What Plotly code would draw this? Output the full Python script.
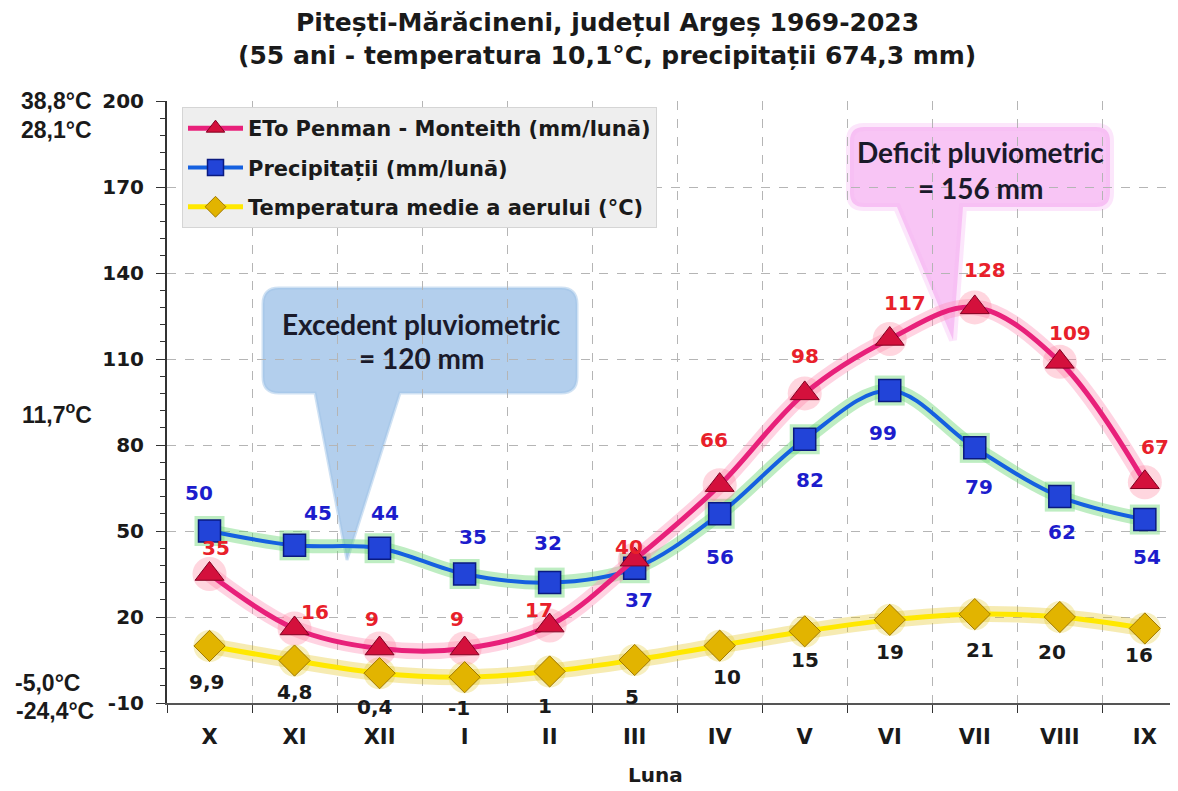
import plotly.graph_objects as go

# ---------------- data ----------------
months = ["X", "XI", "XII", "I", "II", "III", "IV", "V", "VI", "VII", "VIII", "IX"]
eto = [35, 16, 9, 9, 17, 40, 66, 98, 117, 128, 109, 67]
precip = [50, 45, 44, 35, 32, 37, 56, 82, 99, 79, 62, 54]
temp = [9.9, 4.8, 0.4, -1, 1, 5, 10, 15, 19, 21, 20, 16]
temp_labels = ["9,9", "4,8", "0,4", "-1", "1", "5", "10", "15", "19", "21", "20", "16"]
y_ticks = [-10, 20, 50, 80, 110, 140, 170, 200]

title1 = "Pitești-Mărăcineni, județul Argeș 1969-2023"
title2 = "(55 ani - temperatura 10,1°C, precipitații 674,3 mm)"
left_labels = ["38,8°C", "28,1°C", "11,7<sup>o</sup>C", "-5,0°C", "-24,4°C"]

# ---------------- label offsets (pixels) ----------------
eto_dx = [6, 20, -8, -8, -11, -6, -6, 0, 15, 10, 10, 10]
eto_dy = [26, 16, 30, 30, 16, 13, 45, 37, 36, 37, 29, 35]
pre_dx = [-11, 23, 5, 8, -2, 4, 0, 5, -7, 4, 2, 2]
pre_dy = [38, 32, 35, 37, 40, -32, -43, -41, -42, -39, -35, -37]
tmp_dx = [-3, 0, -5, -6, -5, -3, 7, 0, 0, 5, -8, -6]
tmp_dy = [-36, -31, -34, -31, -35, -37, -31, -29, -32, -36, -35, -27]

OFF = 8  # page body margin
W, H = 1178 - OFF, 791 - OFF
L_PX, T_PX, B_PX, R_PX = 167, 101, 703, 1178


def px(x):
    return (x - L_PX) / (R_PX - L_PX)


def py(y):
    return (B_PX - y) / (B_PX - T_PX)


FONT = "DejaVu Sans, sans-serif"
AFONT = "Arial, Liberation Sans, sans-serif"
CFONT = "Lato, Open Sans, sans-serif"
DARK = "#1a1a1a"

fig = go.Figure()

# glow layers
fig.add_trace(go.Scatter(x=months, y=temp, mode="lines+markers", line=dict(color="rgba(225,190,0,0.30)", width=16, shape="spline"),
                         marker=dict(size=32, color="rgba(225,190,0,0.25)", symbol="circle"), showlegend=False, hoverinfo="skip"))
fig.add_trace(go.Scatter(x=months, y=precip, mode="lines+markers", line=dict(color="rgba(110,215,120,0.45)", width=14, shape="spline"),
                         marker=dict(size=30, color="rgba(110,215,120,0.45)", symbol="square"), showlegend=False, hoverinfo="skip"))
fig.add_trace(go.Scatter(x=months, y=eto, mode="lines+markers", line=dict(color="rgba(255,140,180,0.38)", width=16, shape="spline"),
                         marker=dict(size=34, color="rgba(255,120,150,0.30)", symbol="circle"), showlegend=False, hoverinfo="skip"))

# main series
fig.add_trace(go.Scatter(
    x=months, y=temp, mode="lines+markers", name="Temperatura medie a aerului (°C)", legendrank=3, legendgroup="c",
    line=dict(color="#ffe800", width=5, shape="spline"),
    marker=dict(symbol="diamond", size=24, color="#e2b400", line=dict(color="#a07800", width=1)),
))
fig.add_trace(go.Scatter(
    x=months, y=precip, mode="lines+markers", name="Precipitații (mm/lună)", legendrank=2, legendgroup="b",
    line=dict(color="#1560e0", width=4, shape="spline"),
    marker=dict(symbol="square", size=22, color="#2244d8", line=dict(color="#0a1a80", width=1.5)),
))
fig.add_trace(go.Scatter(
    x=months, y=eto, mode="lines+markers", name="ETo Penman - Monteith (mm/lună)", legendrank=1, legendgroup="a",
    line=dict(color="#e8207a", width=5, shape="spline"),
    marker=dict(symbol="triangle-up", size=25, color="#d4103c", line=dict(color="#800020", width=1)),
))

ann = []


def A(**kw):
    kw.setdefault("showarrow", False)
    kw.setdefault("xanchor", "center")
    kw.setdefault("yanchor", "middle")
    ann.append(kw)


for i, m in enumerate(months):
    A(x=m, y=eto[i], xref="x", yref="y", text=str(eto[i]), xshift=eto_dx[i], yshift=eto_dy[i],
      font=dict(family=FONT, size=20, color="#e8202a", weight="bold"))
    A(x=m, y=precip[i], xref="x", yref="y", text=str(precip[i]), xshift=pre_dx[i], yshift=pre_dy[i],
      font=dict(family=FONT, size=20, color="#1c1ccc", weight="bold"))
    A(x=m, y=temp[i], xref="x", yref="y", text=temp_labels[i], xshift=tmp_dx[i], yshift=tmp_dy[i],
      font=dict(family=FONT, size=20, color=DARK, weight="bold"))

# titles
A(x=px(607), y=py(22), xref="paper", yref="paper", text=title1, font=dict(family=FONT, size=25, color=DARK, weight="bold"))
A(x=px(607), y=py(55), xref="paper", yref="paper", text=title2, font=dict(family=FONT, size=25, color=DARK, weight="bold"))
A(x=px(655), y=py(775), xref="paper", yref="paper", text="Luna", font=dict(family=FONT, size=20, color=DARK, weight="bold"))

# left temperature labels
left_pos = [(56, 101), (56, 130), (57, 413), (47, 683), (55, 711)]
for t, (lx, ly) in zip(left_labels, left_pos):
    A(x=px(lx), y=py(ly), xref="paper", yref="paper", text=t, font=dict(family=AFONT, size=23, color=DARK, weight="bold"))

# callout texts
A(x=px(421), y=py(324), xref="paper", yref="paper", text="Excedent pluviometric", font=dict(family=CFONT, size=28, color="#1a1a2a", weight="bold"))
A(x=px(421), y=py(358), xref="paper", yref="paper", text="= 120 mm", font=dict(family=CFONT, size=28, color="#1a1a2a", weight="bold"))
A(x=px(980), y=py(152), xref="paper", yref="paper", text="Deficit pluviometric", font=dict(family=CFONT, size=28, color="#1a1a2a", weight="bold"))
A(x=px(980), y=py(188), xref="paper", yref="paper", text="= 156 mm", font=dict(family=CFONT, size=28, color="#1a1a2a", weight="bold"))


def callout(Lx, Rx, Ty, By, r, t1, t2, tip):
    P = lambda x, y: f"{px(x):.5f},{py(y):.5f}"
    s = f"M {P(Lx + r, Ty)} L {P(Rx - r, Ty)} Q {P(Rx, Ty)} {P(Rx, Ty + r)} "
    s += f"L {P(Rx, By - r)} Q {P(Rx, By)} {P(Rx - r, By)} "
    s += f"L {P(t2, By)} L {P(tip[0], tip[1])} L {P(t1, By)} "
    s += f"L {P(Lx + r, By)} Q {P(Lx, By)} {P(Lx, By - r)} L {P(Lx, Ty + r)} Q {P(Lx, Ty)} {P(Lx + r, Ty)} Z"
    return s


shapes = [
    dict(type="path", xref="paper", yref="paper", layer="between",
         path=callout(263, 577, 288, 393, 16, 315, 400, (347, 560)),
         fillcolor="rgba(160,195,232,0.80)", line=dict(color="rgba(160,195,232,0.5)", width=3)),
    dict(type="path", xref="paper", yref="paper", layer="between",
         path=callout(850, 1110, 127, 207, 14, 897, 963, (953, 340)),
         fillcolor="rgba(246,182,243,0.80)", line=dict(color="rgba(246,182,243,0.35)", width=8)),
]

fig.update_layout(
    width=W, height=H,
    margin=dict(l=L_PX - OFF, r=0, t=T_PX - OFF, b=H - (B_PX - OFF)),
    paper_bgcolor="white", plot_bgcolor="white",
    showlegend=True,
    legend=dict(x=px(182), y=py(107), xanchor="left", yanchor="top",
                bgcolor="#eeeeee", bordercolor="#d5d5d5", borderwidth=1,
                font=dict(family=FONT, size=21, color=DARK, weight="bold"),
                itemwidth=55, tracegroupgap=9, traceorder="grouped"),
    annotations=ann,
    shapes=shapes,
    xaxis=dict(type="category", range=[-0.5, 11.39], tickson="boundaries",
               ticks="outside", ticklen=8, tickcolor="#333333",
               showline=True, linecolor="#555555", linewidth=2,
               showgrid=True, gridcolor="#b5b5b5", griddash="dash", gridwidth=1,
               tickfont=dict(family=FONT, size=21, color=DARK, weight="bold"),
               ticklabelstandoff=14),
    yaxis=dict(range=[-10, 200], tickmode="array", tickvals=y_ticks, ticktext=[str(v) for v in y_ticks],
               ticks="outside", ticklen=9,
               tickcolor="#333333", showline=True, linecolor="#333333", linewidth=2,
               showgrid=True, gridcolor="#b5b5b5", griddash="dash", gridwidth=1, zeroline=False,
               minor=dict(tickmode="linear", dtick=6, tick0=-10, ticks="outside", ticklen=5, tickcolor="#333333", showgrid=False),
               tickfont=dict(family=FONT, size=20, color=DARK, weight="bold"),
               ticklabelstandoff=8),
)

fig.write_html("out.html")
